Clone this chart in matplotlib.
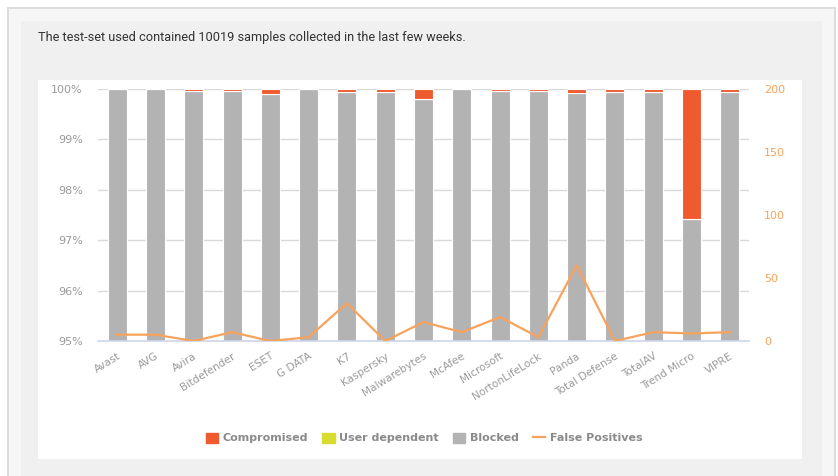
import matplotlib
matplotlib.use("Agg")
import matplotlib.pyplot as plt
from matplotlib.patches import Rectangle
from matplotlib.lines import Line2D
import numpy as np

vendors = ["Avast", "AVG", "Avira", "Bitdefender", "ESET", "G DATA", "K7", "Kaspersky",
           "Malwarebytes", "McAfee", "Microsoft", "NortonLifeLock", "Panda", "Total Defense",
           "TotalAV", "Trend Micro", "VIPRE"]
blocked = [100.0, 100.0, 99.97, 99.97, 99.9, 100.0, 99.95, 99.95,
           99.8, 100.0, 99.97, 99.97, 99.92, 99.95, 99.95, 97.42, 99.95]
user_dependent = [0, 0, 0, 0, 0, 0, 0, 0, 0, 0, 0, 0, 0, 0, 0, 0, 0]
compromised = [0.0, 0.0, 0.03, 0.03, 0.1, 0.0, 0.05, 0.05,
               0.2, 0.0, 0.03, 0.03, 0.08, 0.05, 0.05, 2.58, 0.05]
false_positives = [5, 5, 0, 7, 0, 3, 30, 0, 15, 7, 19, 3, 60, 0, 7, 6, 7]
left_ticks = [95, 96, 97, 98, 99, 100]
right_ticks = [0, 50, 100, 150, 200]

W, H = 838, 476
fig = plt.figure(figsize=(W / 100, H / 100), dpi=100)
fig.patch.set_facecolor("white")

def rect(x0, y0, x1, y1, color, z):
    fig.patches.append(Rectangle((x0 / W, 1 - y1 / H), (x1 - x0) / W, (y1 - y0) / H,
                                 transform=fig.transFigure, facecolor=color,
                                 edgecolor="none", zorder=z))

rect(7, 7, 836, 476, "#dcdcdc", -10)
rect(9, 9, 834, 476, "#f6f6f6", -9)
rect(21, 21, 822, 476, "#f0f0f0", -8)
rect(38, 80, 802, 459, "white", -7)

fig.text(38 / W, 1 - 37 / H, "The test-set used contained 10019 samples collected in the last few weeks.",
         family="Roboto", fontsize=9.2, color="#333333",
         ha="left", va="center")

ax = fig.add_axes([98 / W, 1 - 341 / H, (749 - 98) / W, (341 - 89) / H])
ax.set_facecolor("none")
x = np.arange(len(vendors))
bw = 19 / 38.3
blk = np.array(blocked)
ud = np.array(user_dependent)
cp = np.array(compromised)
ax.bar(x, blk - 95, bottom=95, width=bw, color="#b3b3b3", edgecolor="white", linewidth=0.8, zorder=3)
ax.bar(x, ud, bottom=blk, width=bw, color="#d8dc2f", edgecolor="white", linewidth=0.8, zorder=3)
ax.bar(x, cp, bottom=blk + ud, width=bw, color="#f05a2f", edgecolor="white", linewidth=0.8, zorder=3)
ax.set_ylim(95, 100)
ax.set_xlim(-0.5, len(vendors) - 0.5)
ax.set_yticks(left_ticks)
ax.set_yticklabels([f"{t}%" for t in left_ticks])
ax.grid(axis="y", color="#d9d9d9", linewidth=1, zorder=0)
ax.set_axisbelow(True)
for s in ["top", "right", "left"]:
    ax.spines[s].set_visible(False)
ax.spines["bottom"].set_color("#ccd6eb")
ax.spines["bottom"].set_linewidth(1.2)
ax.spines["bottom"].set_zorder(5)
ax.tick_params(axis="y", length=0, pad=11, labelsize=8, labelcolor="#9a9a9a")
ax.tick_params(axis="x", length=0, pad=7)
ax.set_xticks(x)
ax.set_xticklabels(vendors, rotation=32, ha="right", va="top", rotation_mode="anchor",
                   fontsize=7.6, color="#9a9a9a", family="DejaVu Sans")

ax2 = ax.twinx()
ax2.plot(x, false_positives, color="#f7a35c", linewidth=1.6, zorder=6)
ax2.set_ylim(0, 200)
ax2.set_yticks(right_ticks)
for s in ax2.spines.values():
    s.set_visible(False)
ax2.tick_params(axis="y", length=0, pad=11, labelsize=8, labelcolor="#f7a35c")

handles = [Rectangle((0, 0), 1, 1, color="#f05a2f"),
           Rectangle((0, 0), 1, 1, color="#d8dc2f"),
           Rectangle((0, 0), 1, 1, color="#b3b3b3"),
           Line2D([0], [0], color="#f7a35c", linewidth=1.6)]
leg = fig.legend(handles, ["Compromised", "User dependent", "Blocked", "False Positives"],
                 loc="center", bbox_to_anchor=(424 / W, 1 - 438 / H), ncol=4, frameon=False,
                 handlelength=1.1, handleheight=1.0, handletextpad=0.4, columnspacing=1.3,
                 prop={"size": 8, "weight": "bold", "family": "DejaVu Sans"})
for t in leg.get_texts():
    t.set_color("#8a8a8a")

fig.savefig("out.png", dpi=100, facecolor=fig.get_facecolor())
